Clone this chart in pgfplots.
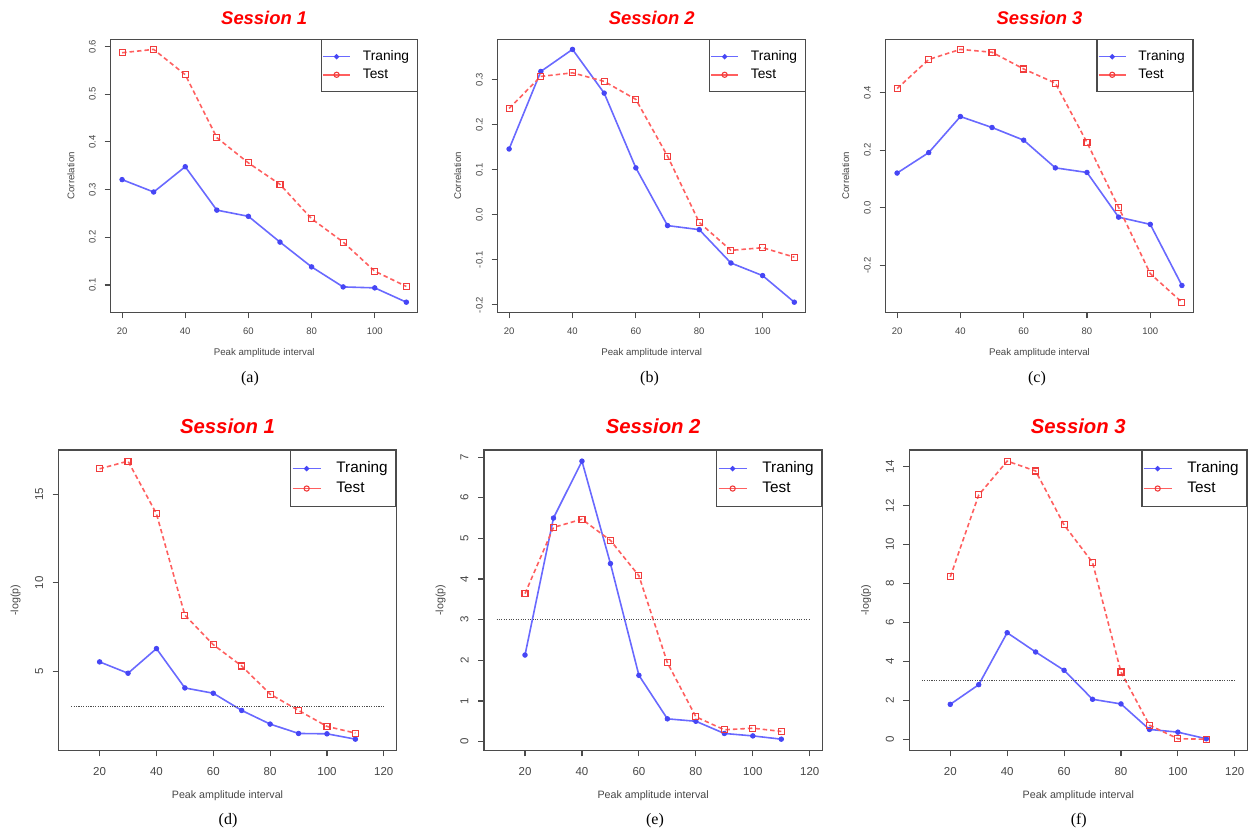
\documentclass[border=0pt]{standalone}
\usepackage{fontspec}
\setmainfont{Liberation Sans}
\newfontfamily\capfont{Liberation Serif}
\usepackage{pgfplots}
\usepackage{pgfplotstable}
\pgfplotsset{compat=1.18}

% x train test
\pgfplotstableread{
x   tr      te
20  0.321   0.587
30  0.295   0.594
40  0.348   0.541
50  0.257   0.409
60  0.244   0.356
70  0.190   0.311
80  0.138   0.239
90  0.096   0.190
100 0.094   0.129
110 0.064   0.097
}\tabA
\pgfplotstableread{
x   tr      te
20  0.146   0.236
30  0.318   0.307
40  0.367   0.315
50  0.270   0.296
60  0.104   0.256
70  -0.024  0.130
80  -0.033  -0.017
90  -0.107  -0.079
100 -0.135  -0.073
110 -0.194  -0.094
}\tabB
\pgfplotstableread{
x   tr      te
20  0.121   0.414
30  0.192   0.515
40  0.317   0.550
50  0.279   0.540
60  0.235   0.482
70  0.139   0.433
80  0.123   0.227
90  -0.032  0.002
100 -0.057  -0.228
110 -0.269  -0.327
}\tabC
\pgfplotstableread{
x   tr     te
20  5.53   16.43
30  4.89   16.86
40  6.28   13.89
50  4.06   8.17
60  3.76   6.50
70  2.79   5.30
80  2.02   3.71
90  1.49   2.79
100 1.47   1.89
110 1.17   1.51
}\tabD
\pgfplotstableread{
x   tr     te
20  2.13   3.64
30  5.50   5.27
40  6.90   5.47
50  4.38   4.95
60  1.63   4.08
70  0.56   1.94
80  0.50   0.61
90  0.20   0.29
100 0.14   0.33
110 0.06   0.25
}\tabE
\pgfplotstableread{
x   tr     te
20  1.79   8.34
30  2.80   12.55
40  5.47   14.29
50  4.48   13.78
60  3.54   11.01
70  2.05   9.08
80  1.81   3.45
90  0.50   0.72
100 0.36   0.02
110 0.02   0.00
}\tabF

\definecolor{trainc}{RGB}{105,105,255}
\definecolor{trainm}{RGB}{70,70,245}
\definecolor{testc}{RGB}{255,95,95}
\definecolor{testm}{RGB}{240,60,60}
\definecolor{framec}{RGB}{75,75,75}
\definecolor{textc}{RGB}{70,70,70}

\pgfplotsset{
  rbase/.style={
    scale only axis, anchor=south west,
    tick align=outside, tick pos=left,
    major tick length=6pt,
    axis line style={draw=framec, line width=1.2pt},
    every tick/.style={draw=framec, line width=1.1pt},
    /pgf/number format/assume math mode=true,
    ticklabel style={text=textc},
    label style={text=textc},
    title style={text=red, font=\bfseries\itshape, at={(axis description cs:0.5,1)}, anchor=center},
    legend image code/.code={\draw[mark repeat=2,mark phase=2,##1] plot coordinates {(0pt,0pt) (13.5pt,0pt) (27pt,0pt)};},
    legend style={at={(1,1)}, anchor=north east, draw=framec, line width=1.1pt, inner xsep=1pt,
      cells={anchor=west}},
  },
  rtop/.style={rbase,
    width=307pt, height=273pt,
    xmin=16.4, xmax=113.6, xtick={20,40,60,80,100},
    xticklabel style={font=\fontsize{9.5}{10}\selectfont, anchor=center, yshift=-13pt},
    yticklabel style={font=\fontsize{9.5}{10}\selectfont, xshift=-12.3pt, rotate=90, anchor=center,
      /pgf/number format/.cd, fixed, fixed zerofill, precision=1},
    xlabel style={font=\fontsize{9.7}{11}\selectfont, at={(axis description cs:0.5,-0.150)}, anchor=center},
    ylabel style={font=\fontsize{9.7}{11}\selectfont, at={(axis description cs:-0.130,0.5)}, anchor=center},
    title style={font=\fontsize{18.4}{20}\bfseries\itshape\selectfont, yshift=15.5pt},
    xlabel={Peak amplitude interval}, ylabel={Correlation},
    legend style={font=\fontsize{13.8}{15}\selectfont, inner ysep=9.5pt, row sep=3.5pt, column sep=11pt,
      nodes={inner sep=1pt, text depth=2.8pt}},
  },
  rbot/.style={rbase,
    width=338pt, height=300.3pt,
    xmin=5.6, xmax=124.4, xtick={20,40,60,80,100,120},
    xticklabel style={font=\fontsize{11.5}{12}\selectfont, anchor=center, yshift=-15.5pt},
    yticklabel style={font=\fontsize{11.5}{12}\selectfont, xshift=-13.5pt, rotate=90, anchor=center},
    xlabel style={font=\fontsize{10.7}{12}\selectfont, at={(axis description cs:0.5,-0.150)}, anchor=center},
    ylabel style={font=\fontsize{10.7}{12}\selectfont, at={(axis description cs:-0.128,0.5)}, anchor=center},
    title style={font=\fontsize{20.3}{22}\bfseries\itshape\selectfont, yshift=18pt},
    xlabel={Peak amplitude interval}, ylabel={-log(p)},
    legend image code/.code={\draw[mark repeat=2,mark phase=2,##1] plot coordinates {(0pt,0pt) (14pt,0pt) (28pt,0pt)};},
    legend style={font=\fontsize{15.3}{17}\selectfont, inner ysep=10pt, row sep=4pt, column sep=14pt,
      nodes={inner sep=1pt, text depth=3.1pt}},
  },
  train/.style={color=trainc, line width=1.6pt, mark=*, mark size=2.3pt,
    mark options={fill=trainm, draw=trainm, line width=0.8pt}},
  test/.style={color=testc, line width=1.6pt, dash pattern=on 4.5pt off 3pt, mark=square, mark size=3pt,
    mark options={solid, draw=testm, line width=1.1pt}},
  trainleg/.style={color=trainc, line width=1.5pt, mark=*, mark size=1.8pt, mark options={fill=trainm, draw=trainm}},
  testleg/.style={color=testc, line width=1.5pt, mark=o, mark size=2.6pt, mark options={draw=testm, line width=1.1pt}},
  thresh/.style={color=black!70, line width=1.1pt, dash pattern=on 1.1pt off 1.3pt},
}

\newcommand{\legpair}[1]{%
  \addlegendimage{trainleg}\addlegendentry{Traning\hspace*{#1}}
  \addlegendimage{testleg}\addlegendentry{Test}}

\begin{document}
\begin{tikzpicture}
\path (0pt,0pt) rectangle (1251pt,835pt);

% ---- top row: correlation ----
\begin{axis}[rtop, at={(110.7pt,522.7pt)}, ymin=0.0428, ymax=0.6152,
  ytick={0.1,0.2,0.3,0.4,0.5,0.6}, title={Session 1}]
\legpair{6pt}
\addplot[train, forget plot] table[x=x, y=tr] {\tabA};
\addplot[test, forget plot] table[x=x, y=te] {\tabA};
\end{axis}

\begin{axis}[rtop, at={(497.7pt,522.7pt)}, width=308pt, ymin=-0.2164, ymax=0.3894,
  ytick={-0.2,-0.1,0,0.1,0.2,0.3}, title={Session 2}]
\legpair{6pt}
\addplot[train, forget plot] table[x=x, y=tr] {\tabB};
\addplot[test, forget plot] table[x=x, y=te] {\tabB};
\end{axis}

\begin{axis}[rtop, at={(885.7pt,522.7pt)}, width=307.6pt, ymin=-0.362, ymax=0.585,
  ytick={-0.2,0,0.2,0.4}, title={Session 3}]
\legpair{6pt}
\addplot[train, forget plot] table[x=x, y=tr] {\tabC};
\addplot[test, forget plot] table[x=x, y=te] {\tabC};
\end{axis}

% ---- bottom row: -log(p) ----
\begin{axis}[rbot, at={(58.7pt,84.7pt)}, width=337.6pt, ymin=0.54, ymax=17.49,
  ytick={5,10,15}, title={Session 1}]
\legpair{6pt}
\addplot[train, forget plot] table[x=x, y=tr] {\tabD};
\addplot[test, forget plot] table[x=x, y=te] {\tabD};
\addplot[thresh, forget plot] coordinates {(10,3) (120,3)};
\end{axis}

\begin{axis}[rbot, at={(484pt,84.7pt)}, width=338.3pt, ymin=-0.214, ymax=7.174,
  ytick={0,1,2,3,4,5,6,7}, title={Session 2}]
\legpair{6pt}
\addplot[train, forget plot] table[x=x, y=tr] {\tabE};
\addplot[test, forget plot] table[x=x, y=te] {\tabE};
\addplot[thresh, forget plot] coordinates {(10,3) (120,3)};
\end{axis}

\begin{axis}[rbot, at={(909.3pt,84.7pt)}, width=338pt, ymin=-0.572, ymax=14.86,
  ytick={0,2,4,6,8,10,12,14}, title={Session 3}]
\legpair{6pt}
\addplot[train, forget plot] table[x=x, y=tr] {\tabF};
\addplot[test, forget plot] table[x=x, y=te] {\tabF};
\addplot[thresh, forget plot] coordinates {(10,3) (120,3)};
\end{axis}

% ---- sub-figure captions ----
\begin{scope}[every node/.style={font=\capfont\fontsize{16}{18}\selectfont, anchor=center}]
\node at (250pt,456pt) {(a)};
\node at (649.5pt,456pt) {(b)};
\node at (1037pt,456pt) {(c)};
\node at (228pt,14.2pt) {(d)};
\node at (655pt,14.2pt) {(e)};
\node at (1078.8pt,14.2pt) {(f)};
\end{scope}
\end{tikzpicture}
\end{document}
